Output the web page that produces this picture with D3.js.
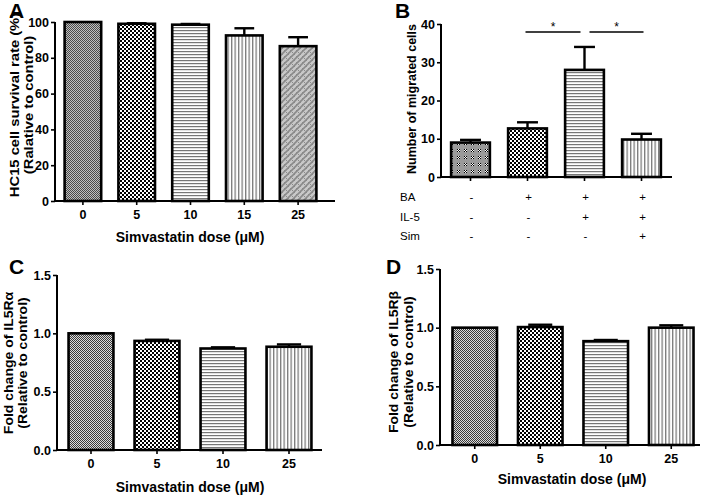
<!DOCTYPE html>
<html><head><meta charset="utf-8">
<script src="https://cdn.jsdelivr.net/npm/d3@7"></script>
<style>
body{margin:0;background:#fff;}
svg{display:block;font-family:Arial,"Liberation Sans",sans-serif;}
</style></head>
<body>
<svg id="c" width="708" height="495"></svg>
<script>
// Panel A
const aCats = ["0","5","10","15","25"];
const aVals = [100, 99, 98.5, 92.5, 86.5];
const aErr  = [0, 0.3, 0.4, 4, 5];
const aTicks = [0,20,40,60,80,100];
// Panel B
const bCats = ["g1","g2","g3","g4"];
const bVals = [9, 12.7, 28, 9.8];
const bErr  = [0.7, 1.6, 6, 1.5];
const bTicks = [0,10,20,30,40];
const bRows = ["BA","IL-5","Sim"];
const bSigns = [["-","+","+","+"],["-","-","+","+"],["-","-","-","+"]];
// Panel C
const cCats = ["0","5","10","25"];
const cVals = [1.0, 0.935, 0.87, 0.885];
const cErr  = [0, 0.01, 0.01, 0.02];
// Panel D
const dCats = ["0","5","10","25"];
const dVals = [1.0, 1.005, 0.885, 1.0];
const dErr  = [0, 0.02, 0.01, 0.02];
const cdTicks = [0,0.5,1.0,1.5];

const svg = d3.select("#c");
const defs = svg.append("defs");

function pat(id,w,h,draw){
  const p = defs.append("pattern").attr("id",id).attr("patternUnits","userSpaceOnUse").attr("width",w).attr("height",h);
  draw(p);
}
pat("pFine",2,2,p=>{p.append("rect").attr("width",2).attr("height",2).attr("fill","#c0c0c0");
  p.append("rect").attr("width",1).attr("height",1).attr("fill","#4a4a4a");
  p.append("rect").attr("x",1).attr("y",1).attr("width",1).attr("height",1).attr("fill","#4a4a4a");});
pat("pFine2",2,2,p=>{p.append("rect").attr("width",2).attr("height",2).attr("fill","#dcdcdc");
  p.append("rect").attr("width",1).attr("height",1).attr("fill","#3a3a3a");
  p.append("rect").attr("x",1).attr("y",1).attr("width",1).attr("height",1).attr("fill","#3a3a3a");});
pat("pCheck",4,4,p=>{p.append("rect").attr("width",4).attr("height",4).attr("fill","#fff");
  p.append("rect").attr("width",2).attr("height",2).attr("fill","#000");
  p.append("rect").attr("x",2).attr("y",2).attr("width",2).attr("height",2).attr("fill","#000");});
pat("pHor",4,3,p=>{p.append("rect").attr("width",4).attr("height",3).attr("fill","#fff");
  p.append("rect").attr("width",4).attr("height",1.2).attr("fill","#777");});
pat("pVer",3.5,4,p=>{p.append("rect").attr("width",3.5).attr("height",4).attr("fill","#fff");
  p.append("rect").attr("width",1.3).attr("height",4).attr("fill","#7a7a7a");});
pat("pDiag",6,6,p=>{p.append("rect").attr("width",6).attr("height",6).attr("fill","#c8c8c8");
  p.append("rect").attr("width",1).attr("height",1).attr("fill","#888");
  p.append("rect").attr("x",2).attr("y",2).attr("width",1).attr("height",1).attr("fill","#888");
  p.append("rect").attr("x",4).attr("y",4).attr("width",1).attr("height",1).attr("fill","#888");
  p.append("path").attr("d","M0,6 L6,0 M-1,1 L1,-1 M5,7 L7,5").attr("stroke","#8a8a8a").attr("stroke-width",1.6);});
pat("pDots",7,7,p=>{p.append("rect").attr("width",7).attr("height",7).attr("fill","#9a9a9a");
  p.append("rect").attr("x",2).attr("y",2).attr("width",3).attr("height",3).attr("fill","#fff");
  p.append("rect").attr("x",2).attr("y",2).attr("width",1).attr("height",1).attr("fill","#000");
  p.append("rect").attr("x",4).attr("y",2).attr("width",1).attr("height",1).attr("fill","#000");
  p.append("rect").attr("x",3).attr("y",3).attr("width",1).attr("height",1).attr("fill","#000");
  p.append("rect").attr("x",2).attr("y",4).attr("width",1).attr("height",1).attr("fill","#000");
  p.append("rect").attr("x",4).attr("y",4).attr("width",1).attr("height",1).attr("fill","#000");});

function panel(o){
  const g = svg.append("g");
  const x = d3.scaleBand().domain(o.cats).range(o.xr).paddingInner(0.32).paddingOuter(0.16);
  const y = d3.scaleLinear().domain(o.yd).range(o.yr);
  g.selectAll("rect.bar").data(o.vals).join("rect")
    .attr("x",(d,i)=>x(o.cats[i])).attr("width",x.bandwidth())
    .attr("y",d=>y(d)).attr("height",d=>y(0)-y(d))
    .attr("fill",(d,i)=>"url(#"+o.fills[i]+")")
    .attr("stroke","#000").attr("stroke-width",2.6);
  const cap = x.bandwidth()*0.27;
  o.vals.forEach((v,i)=>{
    if(!o.err[i]) return;
    const cx = x(o.cats[i])+x.bandwidth()/2;
    g.append("line").attr("x1",cx).attr("x2",cx).attr("y1",y(v)).attr("y2",y(v+o.err[i])).attr("stroke","#000").attr("stroke-width",2.4);
    g.append("line").attr("x1",cx-cap).attr("x2",cx+cap).attr("y1",y(v+o.err[i])).attr("y2",y(v+o.err[i])).attr("stroke","#000").attr("stroke-width",2.4);
  });
  const ya = g.append("g").attr("transform",`translate(${o.xr0},0)`)
    .call(d3.axisLeft(y).tickValues(o.ticks).tickSize(4).tickPadding(2).tickFormat(o.fmt));
  ya.select(".domain").attr("stroke-width",2).attr("d",`M-0,${o.yr[0]}V${o.yr[1]}`);
  ya.selectAll(".tick line").attr("stroke-width",1.6);
  ya.selectAll("text").attr("font-size",12.5).attr("font-weight","bold").attr("fill","#000").attr("font-family","Arial, 'Liberation Sans', sans-serif");
  const xa = g.append("g").attr("transform",`translate(0,${o.yr[0]})`)
    .call(d3.axisBottom(x).tickSize(4).tickPadding(5).tickFormat(o.xfmt||(d=>d)));
  xa.select(".domain").attr("stroke-width",2).attr("d",`M${o.xr0},0H${o.xend}`);
  xa.selectAll(".tick line").attr("stroke-width",1.6);
  xa.selectAll("text").attr("font-size",12.5).attr("font-weight","bold").attr("fill","#000").attr("font-family","Arial, 'Liberation Sans', sans-serif");
  g.append("text").attr("x",o.lx).attr("y",o.ly).text(o.letter).attr("font-size",21).attr("font-weight","bold");
  o.ylab.forEach((t,i)=>{
    g.append("text").attr("transform",`translate(${o.ylx[i]},${o.yly}) rotate(-90) scale(${o.ys},1)`)
      .attr("text-anchor","middle").attr("font-size",12.5).attr("font-weight","bold").text(t);
  });
  if(o.xlab) g.append("text").attr("x",o.xlx).attr("y",o.xly).attr("text-anchor","middle")
      .attr("font-size",14).attr("font-weight","bold").text(o.xlab);
  return {g,x,y};
}

panel({cats:aCats,vals:aVals,err:aErr,fills:["pFine","pCheck","pHor","pVer","pDiag"],
  xr:[56,325],xr0:55,xend:335,yd:[0,100],yr:[201,22],ticks:aTicks,fmt:d3.format("d"),
  letter:"A",lx:9,ly:18,ylab:["HC15 cell survival rate (%)","(Ralative to control)"],ylx:[19,33],yly:105,ys:1.18,
  xlab:"Simvastatin dose (\u03bcM)",xlx:190,xly:242});

const B = panel({cats:bCats,vals:bVals,err:bErr,fills:["pDots","pCheck","pHor","pVer"],
  xr:[442,670],xr0:441,xend:672,yd:[0,40],yr:[177,24],ticks:bTicks,fmt:d3.format("d"),xfmt:()=>"",
  letter:"B",lx:395,ly:18,ylab:["Number of migrated cells"],ylx:[416],yly:99,ys:1.0});
const bc = i=>B.x(bCats[i])+B.x.bandwidth()/2;
[[1,2],[2,3]].forEach(([a,b],k)=>{
  const x1 = k===0? bc(a)-2 : bc(a)+5, x2 = k===0? bc(b)-4 : bc(b)+2;
  B.g.append("line").attr("x1",x1).attr("x2",x2).attr("y1",B.y(37.9)).attr("y2",B.y(37.9)).attr("stroke","#000").attr("stroke-width",1.5);
  B.g.append("text").attr("x",(x1+x2)/2).attr("y",B.y(38.3)).attr("text-anchor","middle").attr("font-size",12).text("*");
});
bRows.forEach((r,ri)=>{
  const yy = 201 + ri*19.5;
  B.g.append("text").attr("x",400).attr("y",yy).attr("font-size",11.5).text(r);
  bSigns[ri].forEach((s,i)=>{
    B.g.append("text").attr("x",bc(i)+1).attr("y",yy).attr("text-anchor","middle").attr("font-size",11.5).text(s);
  });
});

panel({cats:cCats,vals:cVals,err:cErr,fills:["pFine2","pCheck","pHor","pVer"],
  xr:[58,322],xr0:57,xend:322,yd:[0,1.5],yr:[450,275],ticks:cdTicks,fmt:d3.format(".1f"),
  letter:"C",lx:9,ly:274,ylab:["Fold change of IL5R\u03b1","(Relative to control)"],ylx:[13,27],yly:363,ys:1.12,
  xlab:"Simvastatin dose (\u03bcM)",xlx:190,xly:492});

panel({cats:dCats,vals:dVals,err:dErr,fills:["pFine2","pCheck","pHor","pVer"],
  xr:[442,704],xr0:440,xend:700,yd:[0,1.5],yr:[445,269],ticks:cdTicks,fmt:d3.format(".1f"),
  letter:"D",lx:386,ly:274,ylab:["Fold change of IL5R\u03b2","(Relative to control)"],ylx:[398,413],yly:362,ys:1.12,
  xlab:"Simvastatin dose (\u03bcM)",xlx:572,xly:484});
</script>
</body></html>
